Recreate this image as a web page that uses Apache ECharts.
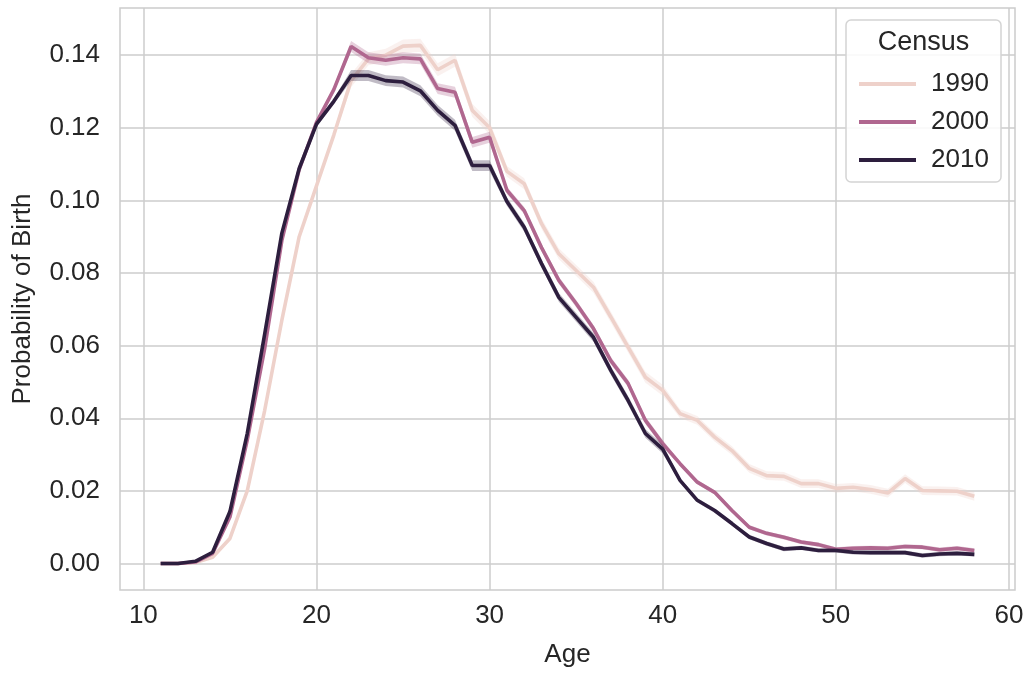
<!DOCTYPE html>
<html>
<head>
<meta charset="utf-8">
<script src="https://cdn.jsdelivr.net/npm/echarts@6/dist/echarts.min.js"></script>
<style>html,body{margin:0;padding:0;background:#fff}#c{width:1027px;height:673px}</style>
</head>
<body>
<div id="c"></div>
<script>
const ages = [11,12,13,14,15,16,17,18,19,20,21,22,23,24,25,26,27,28,29,30,31,32,33,34,35,36,37,38,39,40,41,42,43,44,45,46,47,48,49,50,51,52,53,54,55,56,57,58];
const censusNames = ['1990','2000','2010'];
const v1990 = [0.0000,0.0000,0.0003,0.0017,0.0069,0.0200,0.0420,0.0670,0.0900,0.1040,0.1180,0.1330,0.1390,0.1400,0.1425,0.1427,0.1360,0.1386,0.1248,0.1200,0.1080,0.1046,0.0936,0.0853,0.0807,0.0761,0.0679,0.0596,0.0513,0.0477,0.0413,0.0394,0.0348,0.0311,0.0262,0.0242,0.0240,0.0220,0.0220,0.0207,0.0210,0.0204,0.0194,0.0234,0.0201,0.0200,0.0199,0.0185];
const v2000 = [0.0000,0.0000,0.0004,0.0028,0.0128,0.0340,0.0590,0.0890,0.1085,0.1215,0.1305,0.1424,0.1393,0.1386,0.1393,0.1390,0.1308,0.1298,0.1160,0.1174,0.1028,0.0972,0.0870,0.0780,0.0716,0.0647,0.0559,0.0496,0.0394,0.0330,0.0275,0.0224,0.0196,0.0146,0.0100,0.0083,0.0072,0.0059,0.0052,0.0039,0.0042,0.0043,0.0042,0.0047,0.0045,0.0038,0.0042,0.0036];
const v2010 = [0.0000,0.0000,0.0006,0.0031,0.0143,0.0358,0.0630,0.0910,0.1088,0.1210,0.1273,0.1344,0.1344,0.1330,0.1326,0.1302,0.1248,0.1207,0.1096,0.1096,0.0997,0.0926,0.0826,0.0733,0.0678,0.0623,0.0532,0.0449,0.0358,0.0315,0.0229,0.0174,0.0146,0.0110,0.0073,0.0055,0.0040,0.0043,0.0036,0.0036,0.0031,0.0030,0.0030,0.0030,0.0022,0.0026,0.0028,0.0025];
// half-widths of confidence bands
const ci1990 = [0,0,0,0,0.0005,0.0005,0.0005,0.0005,0.001,0.001,0.001,0.0018,0.0018,0.0018,0.0018,0.0018,0.0018,0.0018,0.0018,0.0018,0.0015,0.0015,0.0015,0.0015,0.0015,0.0015,0.0015,0.0015,0.0015,0.0015,0.0012,0.0012,0.0012,0.0012,0.0012,0.0012,0.0012,0.0012,0.0012,0.0012,0.0012,0.0012,0.0012,0.0012,0.0012,0.0012,0.0012,0.0012];
const ci2000 = [0,0,0,0,0.0005,0.0005,0.0005,0.0005,0.0008,0.0008,0.0008,0.0015,0.0015,0.0015,0.0015,0.0015,0.0015,0.0015,0.0015,0.0015,0.001,0.001,0.001,0.001,0.001,0.001,0.001,0.001,0.001,0.001,0.0006,0.0006,0.0006,0.0006,0.0006,0.0006,0.0006,0.0006,0.0006,0.0006,0.0006,0.0006,0.0006,0.0006,0.0006,0.0006,0.0006,0.0006];
const ci2010 = [0,0,0,0,0.0005,0.0005,0.0005,0.0005,0.0008,0.0008,0.0008,0.0015,0.0015,0.0015,0.0015,0.0015,0.0015,0.0015,0.0015,0.0015,0.0012,0.0012,0.0012,0.0012,0.0012,0.0012,0.0012,0.0012,0.0012,0.0012,0.0006,0.0006,0.0006,0.0006,0.0006,0.0006,0.0006,0.0006,0.0006,0.0006,0.0006,0.0006,0.0006,0.0006,0.0006,0.0006,0.0006,0.0006];
const xTicks = [10,20,30,40,50,60];
const yTicks = [0,0.02,0.04,0.06,0.08,0.10,0.12,0.14];

const colors = ['#eed1ca','#b0678f','#2d1e3e'];
const values = [v1990, v2000, v2010];
const cis = [ci1990, ci2000, ci2010];
const FONT = '"Liberation Sans", Arial, sans-serif';
const FS = 26;

function hexA(hex, a){
  const n = parseInt(hex.slice(1),16);
  return 'rgba(' + ((n>>16)&255) + ',' + ((n>>8)&255) + ',' + (n&255) + ',' + a + ')';
}

const series = [];
censusNames.forEach((nm, k) => {
  const vals = values[k], ci = cis[k];
  series.push({
    type: 'custom',
    name: nm + ' band',
    silent: true,
    z: 1 + k*2,
    data: ages.map((a,i) => [a, vals[i]-ci[i], vals[i]+ci[i]]),
    renderItem: function(params, api){
      if (params.dataIndex !== 0) return null;
      const up = [], lo = [];
      for (let i = 0; i < ages.length; i++){
        up.push(api.coord([ages[i], vals[i]+ci[i]]));
        lo.unshift(api.coord([ages[i], vals[i]-ci[i]]));
      }
      return {type:'polygon', shape:{points: up.concat(lo)}, style:{fill: hexA(colors[k], 0.3)}};
    }
  });
  series.push({
    type: 'line',
    name: nm,
    z: 2 + k*2,
    showSymbol: false,
    data: ages.map((a,i) => [a, vals[i]]),
    lineStyle: {color: colors[k], width: 3.6},
    itemStyle: {color: colors[k]},
    emphasis: {disabled: true}
  });
});

const chart = echarts.init(document.getElementById('c'), null, {renderer:'canvas'});
chart.setOption({
  animation: false,
  backgroundColor: '#fff',
  grid: {left: 120, right: 12, top: 8, bottom: 83, show: true, borderColor: '#cccccc', borderWidth: 1.5, containLabel: false},
  xAxis: {
    type: 'value', min: 8.65, max: 60.35,
    name: 'Age', nameLocation: 'middle', nameGap: 52,
    nameTextStyle: {fontFamily: FONT, fontSize: FS, color: '#262626'},
    axisLine: {show: false},
    axisTick: {show: false, customValues: xTicks},
    axisLabel: {customValues: xTicks, fontFamily: FONT, fontSize: FS, color: '#262626', margin: 13},
    splitLine: {show: true, lineStyle: {color: '#cccccc', width: 1.5}}
  },
  yAxis: {
    type: 'value', min: -0.0073, max: 0.153,
    name: 'Probability of Birth', nameLocation: 'middle', nameGap: 84,
    nameTextStyle: {fontFamily: FONT, fontSize: FS, color: '#262626'},
    axisLine: {show: false},
    axisTick: {show: false, customValues: yTicks},
    axisLabel: {customValues: yTicks, fontFamily: FONT, fontSize: FS, color: '#262626', margin: 20,
      formatter: v => v.toFixed(2)},
    splitLine: {show: true, lineStyle: {color: '#cccccc', width: 1.5}}
  },
  legend: {
    orient: 'vertical', left: 854, top: 65,
    itemWidth: 57, itemHeight: 4, itemGap: 10,
    selectedMode: false,
    data: censusNames.map(n => ({name: n, icon: 'rect'})),
    textStyle: {fontFamily: FONT, fontSize: FS, color: '#262626', lineHeight: 28, padding: [0,0,0,10]},
    z: 10
  },
  graphic: [
    {type: 'rect', x: 846, y: 20, z: 8, shape: {width: 155, height: 162, r: 5},
     style: {fill: 'rgba(255,255,255,0.85)', stroke: '#d4d4d4', lineWidth: 1.5}},
    {type: 'text', z: 9, x: 923.5, y: 43,
     style: {text: 'Census', align: 'center', verticalAlign: 'middle', fontFamily: FONT, fontSize: 27, fill: '#262626'}}
  ],
  series: series
});
</script>
</body>
</html>
